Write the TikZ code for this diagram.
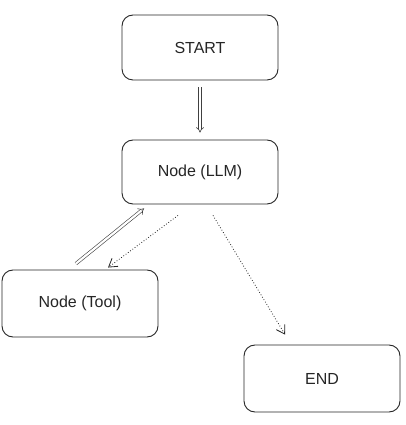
\documentclass[tikz,border=0pt]{standalone}
\usepackage{fontspec}
\setmainfont{Liberation Sans}
\usetikzlibrary{arrows.meta}
\begin{document}
\begin{tikzpicture}[x=1pt,y=1pt,
  box/.style={draw=black!85, line width=0.9pt, rounded corners=11pt, minimum width=156pt, inner sep=0pt, fill=white, text=black!85, font=\fontsize{16}{19}\selectfont},
  dbl/.style={draw=black!75, double=white, double distance=2.2pt, line width=0.6pt, -{Implies[length=10pt,width=12pt]}},
  dot/.style={draw=black!85, line width=0.8pt, dotted, -{Straight Barb[length=8pt,width=10pt]}}
]
\useasboundingbox (0,0) rectangle (405,425);
\node[box, minimum height=65pt] (start) at (200,377.5) {START};
\node[box, minimum height=64pt] (llm) at (200,253) {Node (LLM)};
\node[box, minimum height=67pt] (tool) at (80,121.5) {Node (Tool)};
\node[box, minimum height=67pt] (end) at (322,46.5) {END};
\draw[dbl] ([yshift=-7pt]start.south) -- ([yshift=7pt]llm.north);
\draw[dbl] ([xshift=-4pt,yshift=6pt]tool.north) -- ([xshift=-56pt,yshift=-4pt]llm.south);
\draw[dot] ([xshift=-22pt,yshift=-11pt]llm.south) -- ([xshift=28pt,yshift=2pt]tool.north);
\draw[dot] ([xshift=13pt,yshift=-11pt]llm.south) -- ([xshift=-37pt,yshift=10pt]end.north);
\end{tikzpicture}
\end{document}
